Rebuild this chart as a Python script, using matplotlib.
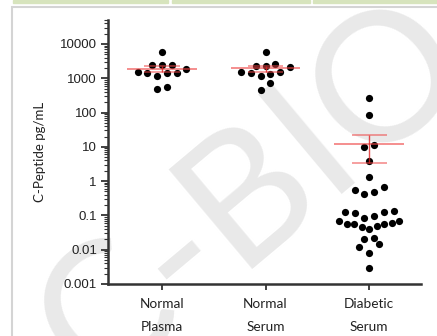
import numpy as np
import matplotlib
matplotlib.use('Agg')
import matplotlib.pyplot as plt
from matplotlib.patches import Rectangle
from matplotlib.ticker import LogLocator, NullFormatter

# Data (pg/mL)
groups = ['Normal\nPlasma', 'Normal\nSerum', 'Diabetic\nSerum']
normal_plasma = [6000, 2400, 2450, 2500, 1830, 1500, 1380, 1400, 1420, 1170, 550, 480]
normal_serum = [5730, 2610, 2330, 2300, 2150, 1560, 1500, 1400, 1310, 1190, 745, 456]
diabetic_serum = [272, 85, 10.1, 11.4, 3.88, 1.35, 0.69, 0.47, 0.42, 0.55,
                  0.125, 0.122, 0.0863, 0.0987, 0.116, 0.138,
                  0.069, 0.057, 0.055, 0.048, 0.040, 0.046, 0.056, 0.059, 0.071,
                  0.0207, 0.0225, 0.0118, 0.0145, 0.0079, 0.0029]
ytick_values = [0.001, 0.01, 0.1, 1, 10, 100, 1000, 10000]
ytick_labels = ['0.001', '0.01', '0.1', '1', '10', '100', '1000', '10000']


# Prism-like scatter layout: rows of close values, spread centre-out
def swarm_offsets(values, row_tol=0.275, step=0.094, max_width=0.58):
    logs = np.log10(values)
    order = np.argsort(logs)
    offsets = np.zeros(len(values))
    rows, current = [], [order[0]]
    for i in order[1:]:
        if logs[i] - logs[current[0]] < row_tol:
            current.append(i)
        else:
            rows.append(current)
            current = [i]
    rows.append(current)
    for row in rows:
        n = len(row)
        gap = step if n < 3 else min(step, max_width / (n - 1))
        slots = sorted(np.arange(n) - (n - 1) / 2, key=lambda s: (abs(s), s))
        for idx, s in zip(row, slots):
            offsets[idx] = s * gap
    return offsets


fig = plt.figure(figsize=(4.37, 3.36), dpi=100)
fig.patch.set_facecolor('white')

# page decorations: green header strips, grey frame, watermark
for x0, x1 in [(13, 168), (172, 310), (313, 437)]:
    fig.patches.append(Rectangle((x0 / 437, 1 - 3 / 336), (x1 - x0) / 437, 3 / 336,
                                 transform=fig.transFigure, color='#d7e4bd', zorder=0))
fig.patches.append(Rectangle((12 / 437, -0.01), 1, 1 - 7 / 336 + 0.01, transform=fig.transFigure,
                             fill=False, edgecolor='#d4d4d4', linewidth=1.5, zorder=0))
fig.text(0.58, 0.42, 'C-BIO', rotation=40, fontsize=130, color='#e9e9e9',
         ha='center', va='center', family='Lato', zorder=-1)

ax = fig.add_axes([108 / 437, 1 - 284 / 336, (421 - 108) / 437, (284 - 20) / 336])
ax.patch.set_visible(False)
ax.set_yscale('log')

for pos, vals in enumerate([normal_plasma, normal_serum, diabetic_serum]):
    vals = np.array(vals, dtype=float)
    ax.plot(pos + swarm_offsets(vals), vals, 'o', color='black', markersize=5.2,
            markeredgewidth=0, zorder=3)
    mean = vals.mean()
    sem = vals.std(ddof=1) / np.sqrt(len(vals))
    ax.hlines(mean, pos - 0.335, pos + 0.335, color='#ee4444', alpha=0.7, linewidth=1.2, zorder=4)
    ax.hlines([mean - sem, mean + sem], pos - 0.17, pos + 0.17, color='#ee4444', alpha=0.6,
              linewidth=1.2, zorder=4)
    ax.vlines(pos, mean - sem, mean + sem, color='#dd2222', alpha=0.8, linewidth=1.0, zorder=4)

ax.set_ylim(0.001, 50000)
ax.set_xlim(-0.52, 2.5)
ax.set_yticks(ytick_values)
ax.set_yticklabels(ytick_labels, fontsize=9.5, family='Liberation Sans', color='#222222')
ax.yaxis.set_minor_locator(LogLocator(base=10, subs=np.arange(2, 10), numticks=20))
ax.yaxis.set_minor_formatter(NullFormatter())
ax.set_xticks(range(len(groups)))
ax.set_xticklabels(groups, fontsize=9.8, family='Lato', color='#222222', linespacing=2.1)
ax.set_ylabel('C-Peptide pg/mL', fontsize=9.5, family='Lato', color='#222222', labelpad=10)

for side in ['top', 'right']:
    ax.spines[side].set_visible(False)
for side in ['left', 'bottom']:
    ax.spines[side].set_linewidth(1.8)
    ax.spines[side].set_color('#333333')
ax.tick_params(axis='y', which='major', length=5, width=1.3, color='#333333', pad=3)
ax.tick_params(axis='y', which='minor', length=3, width=0.8, color='#333333')
ax.tick_params(axis='x', length=4, width=1.3, color='#333333', pad=6)

fig.savefig('out.png', dpi=100)
